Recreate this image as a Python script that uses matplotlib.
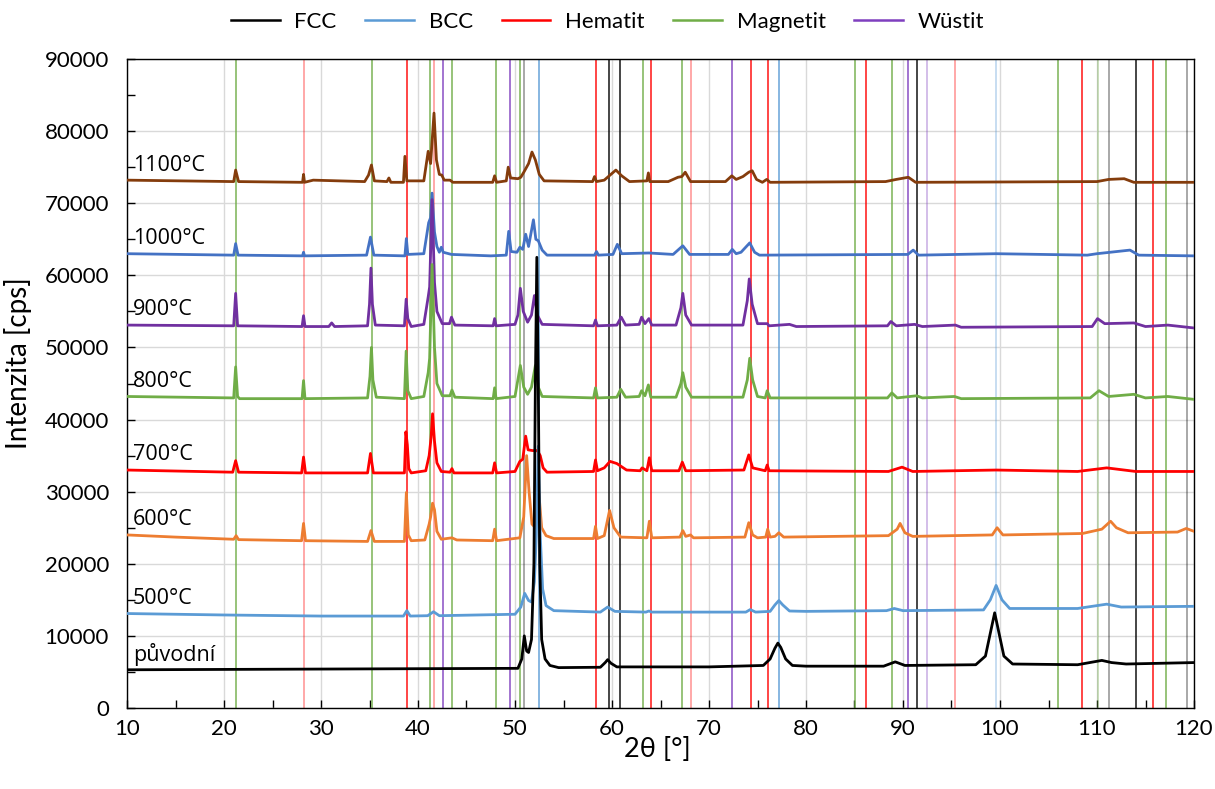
import matplotlib
matplotlib.use("Agg")
import matplotlib.pyplot as plt
from matplotlib.lines import Line2D
from matplotlib.ticker import MultipleLocator

plt.rcParams['font.family'] = ['Lato', 'DejaVu Sans']

# ---------------- data (2theta [deg], intensity [cps]) ----------------
series_names = ["původní", "500°C", "600°C", "700°C", "800°C", "900°C", "1000°C", "1100°C"]

puvodni = [(10, 5300), (20, 5350), (30, 5400), (40, 5450), (50.3, 5500), (50.7, 6800), (50.96, 10000),
           (51.2, 7900), (51.4, 7700), (51.7, 9500), (51.95, 20000), (52.1, 45000), (52.25, 62500),
           (52.4, 45000), (52.55, 20000), (52.75, 9500), (53.1, 6800), (53.6, 5900), (54.5, 5600),
           (58.8, 5650), (59.3, 6300), (59.55, 6700), (59.9, 6200), (60.5, 5700), (70, 5700),
           (75.6, 5900), (76.3, 6800), (76.8, 8300), (77.1, 9000), (77.4, 8400), (77.9, 6800),
           (78.6, 5900), (80, 5800), (88.0, 5800), (89.2, 6400), (90.2, 5900), (97.5, 6000),
           (98.5, 7200), (99.1, 11000), (99.45, 13200), (99.8, 11000), (100.4, 7200), (101.3, 6100),
           (108, 6000), (110.5, 6600), (111.5, 6300), (113, 6100), (120, 6300)]

t500 = [(10, 13100), (20, 12900), (30, 12750), (38.5, 12750), (38.85, 13500), (39.2, 12750), (41.0, 12800),
        (41.6, 13350), (42.2, 12800), (50.0, 13000), (50.6, 14000), (51.0, 15900), (51.4, 14900),
        (51.7, 14700), (52.0, 17500), (52.2, 24000), (52.4, 36300), (52.6, 24000), (52.85, 16500),
        (53.2, 14200), (54, 13500), (58.8, 13300), (59.55, 14000), (60.3, 13400), (63.5, 13300),
        (63.8, 13450), (64.1, 13300), (73.8, 13300), (74.25, 13650), (74.8, 13300), (76.3, 13400),
        (76.8, 14300), (77.2, 14900), (77.6, 14300), (78.3, 13450), (80, 13400), (88.3, 13500),
        (89.1, 13800), (90, 13500), (98.3, 13600), (99.0, 15000), (99.6, 17000), (100.2, 15000),
        (101.0, 13800), (108, 13800), (111.0, 14400), (112.5, 14000), (120, 14100)]

t600 = [(10, 24000), (15, 23700), (21.0, 23400), (21.25, 23900), (21.5, 23350), (28.0, 23200), (28.2, 25600),
        (28.4, 23200), (34.8, 23100), (35.15, 24600), (35.5, 23100), (38.6, 23100), (38.8, 29900),
        (39.0, 24000), (39.3, 23200), (40.7, 23300), (41.15, 25500), (41.3, 26500), (41.5, 28400),
        (41.7, 27500), (41.95, 24500), (42.4, 23400), (43.5, 23600), (44, 23300), (47.7, 23200),
        (47.9, 24800), (48.1, 23200), (50.5, 23600), (50.9, 26500), (51.2, 35000), (51.45, 30000),
        (51.75, 25500), (52.1, 25000), (52.45, 30000), (52.75, 25000), (53.2, 23900), (54, 23500),
        (58.1, 23500), (58.3, 25200), (58.5, 23500), (59.2, 23900), (59.75, 27400), (60.2, 25000),
        (60.9, 23700), (63.6, 23600), (63.85, 25900), (64.1, 23600), (67.0, 23700), (67.3, 24600),
        (67.6, 23800), (68.1, 24000), (68.4, 23600), (73.7, 23700), (74.1, 25700), (74.5, 24000),
        (75.0, 23600), (75.85, 23700), (76.05, 24800), (76.3, 23700), (76.8, 23800), (77.2, 24300),
        (77.7, 23700), (88.5, 23900), (89.4, 24800), (89.7, 25600), (90.2, 24300), (91, 23800),
        (99.2, 24000), (99.7, 25000), (100.3, 24000), (108.5, 24200), (110.5, 24800), (111.4, 25900),
        (112.0, 25000), (113.2, 24300), (118.3, 24400), (119.2, 24900), (120, 24500)]

t700 = [(10, 33000), (20.9, 32700), (21.2, 34300), (21.5, 32700), (28.0, 32600), (28.2, 34800), (28.4, 32600),
        (34.8, 32600), (35.1, 35300), (35.4, 32600), (38.6, 32600), (38.75, 38300), (38.9, 36500),
        (39.05, 33200), (39.3, 32600), (40.8, 32900), (41.15, 35000), (41.35, 37500), (41.5, 40800),
        (41.7, 37000), (41.95, 34000), (42.4, 32800), (43.3, 32700), (43.5, 33200), (43.7, 32600),
        (47.7, 32600), (47.9, 34000), (48.1, 32600), (50.0, 32800), (50.5, 34200), (50.8, 34500),
        (51.1, 37700), (51.35, 35800), (51.8, 35700), (52.3, 35700), (52.6, 35000), (52.9, 33300),
        (53.3, 32700), (58.1, 32800), (58.3, 34400), (58.5, 32900), (59.2, 33300), (59.8, 34200),
        (60.5, 33900), (61.5, 33000), (62.9, 32900), (63.1, 33300), (63.6, 32900), (63.85, 34700),
        (64.1, 32900), (66.9, 32900), (67.25, 34100), (67.6, 32900), (73.6, 33000), (74.1, 35100),
        (74.5, 33300), (75.8, 32900), (76.0, 33700), (76.2, 32900), (88.5, 32800), (89.9, 33400),
        (91, 32800), (99.6, 33000), (108, 32800), (111, 33300), (114, 32800), (120, 32800)]

t800 = [(10, 43200), (21.0, 43000), (21.2, 47300), (21.4, 43200), (21.6, 42900), (28.05, 42900), (28.2, 45400),
        (28.35, 42900), (34.8, 43000), (35.05, 46000), (35.2, 50000), (35.35, 45500), (35.7, 43100),
        (38.6, 42900), (38.78, 49500), (38.95, 44000), (39.3, 42900), (40.6, 43200), (41.05, 46500),
        (41.2, 48500), (41.45, 61500), (41.7, 50000), (41.95, 45000), (42.5, 43300), (43.3, 43300),
        (43.5, 44100), (43.8, 43100), (47.75, 42900), (47.9, 44400), (48.05, 42900), (50.0, 43200),
        (50.55, 47500), (50.9, 44500), (51.3, 43500), (51.7, 44500), (52.1, 47500), (52.4, 44500),
        (52.8, 43200), (58.1, 43000), (58.3, 44400), (58.5, 43000), (60.5, 43100), (60.9, 44200),
        (61.4, 43100), (62.8, 43200), (63.05, 44000), (63.4, 43300), (63.75, 44800), (64.0, 43100),
        (66.6, 43100), (67.1, 45000), (67.3, 46500), (67.6, 44500), (68.2, 43100), (73.5, 43100),
        (73.95, 45500), (74.2, 48500), (74.5, 45500), (75.0, 43200), (75.8, 43000), (76.0, 44000),
        (76.3, 43000), (88.4, 43000), (88.85, 43700), (89.4, 43000), (91.4, 43300), (92, 43000),
        (95.3, 43200), (96, 42900), (109.3, 43000), (110.2, 44000), (111.2, 43200), (113.8, 43500),
        (115, 43000), (117.3, 43200), (120, 42800)]

t900 = [(10, 53100), (21.0, 53000), (21.2, 57500), (21.4, 53000), (28.05, 52900), (28.2, 54400), (28.35, 52900),
        (30.8, 52900), (31.1, 53400), (31.4, 52900), (34.8, 53000), (35.0, 56000), (35.15, 61000),
        (35.3, 56000), (35.6, 53100), (38.6, 53000), (38.78, 56700), (38.95, 54000), (39.3, 52900),
        (40.6, 53200), (41.05, 57000), (41.2, 58400), (41.45, 70500), (41.7, 59000), (41.95, 55000),
        (42.5, 53300), (43.25, 53300), (43.45, 54200), (43.8, 53100), (47.75, 53000), (47.9, 54000),
        (48.05, 53000), (50.0, 53200), (50.3, 54500), (50.55, 58200), (50.85, 55000), (51.3, 53500),
        (51.7, 54500), (52.0, 57200), (52.3, 54500), (52.8, 53200), (58.1, 53000), (58.3, 53800),
        (58.5, 53000), (60.5, 53100), (60.95, 54200), (61.4, 53100), (62.8, 53200), (63.05, 54200),
        (63.4, 53300), (63.8, 54000), (64.1, 53100), (66.6, 53100), (67.1, 55500), (67.3, 57500),
        (67.6, 54500), (68.2, 53100), (73.5, 53100), (73.95, 56500), (74.15, 59500), (74.45, 56000),
        (75.0, 53300), (76.0, 53300), (76.2, 53000), (78.3, 53200), (79, 52900), (88.4, 53000),
        (88.75, 53600), (89.3, 53000), (91.2, 53200), (92, 52900), (95.4, 53100), (96, 52800),
        (109.5, 52900), (110.05, 54000), (110.8, 53300), (113.8, 53400), (115, 52900), (117.3, 53100),
        (120, 52700)]

t1000 = [(10, 63000), (21.0, 62800), (21.2, 64400), (21.45, 62800), (28.1, 62700), (28.2, 63200), (28.3, 62700),
         (34.7, 62800), (35.1, 65300), (35.45, 62800), (38.65, 62700), (38.8, 65100), (38.95, 62900),
         (40.6, 63000), (41.1, 67300), (41.3, 68000), (41.45, 71400), (41.7, 66000), (41.95, 64000),
         (42.2, 63200), (42.4, 63900), (42.6, 63200), (43.45, 62900), (47.5, 62700), (49.1, 62800),
         (49.35, 66100), (49.6, 63300), (50.2, 63200), (50.5, 63900), (50.8, 63600), (51.1, 65700),
         (51.4, 64000), (51.9, 67700), (52.15, 65000), (52.4, 64800), (52.8, 63500), (53.3, 62800),
         (58.2, 62800), (58.4, 63300), (58.6, 62800), (60.1, 62900), (60.55, 64300), (61.0, 63000),
         (63.8, 63100), (66.3, 62900), (67.3, 64100), (68.0, 62900), (72.0, 62900), (72.4, 63600),
         (72.8, 63000), (73.3, 63200), (74.2, 64500), (74.7, 63200), (75.2, 62800), (90.5, 62900),
         (91.05, 63500), (91.6, 62800), (99.6, 63000), (109, 62800), (110, 63000), (113.4, 63500),
         (114.3, 62800), (120, 62700)]

t1100 = [(10, 73200), (21.0, 73000), (21.2, 74600), (21.5, 73000), (28.1, 72900), (28.2, 74000), (28.3, 72900),
         (29.2, 73200), (34.5, 73000), (34.9, 73900), (35.2, 75300), (35.5, 73100), (36.8, 73000),
         (37.0, 73500), (37.2, 72900), (38.5, 72900), (38.65, 76500), (38.85, 73100), (40.6, 73100),
         (41.05, 77200), (41.3, 75500), (41.65, 82500), (41.9, 76000), (42.2, 74000), (42.45, 73900),
         (42.7, 73200), (43.3, 73200), (43.6, 72900), (47.7, 72900), (47.9, 73800), (48.1, 72900),
         (49.1, 73100), (49.3, 75000), (49.55, 73500), (50.3, 73400), (50.6, 73600), (50.95, 74400),
         (51.4, 75500), (51.75, 77100), (52.1, 76000), (52.5, 74000), (53.0, 73100), (58.0, 73000),
         (58.2, 73700), (58.4, 73000), (59.2, 73200), (60.4, 74600), (61.0, 73800), (61.8, 73000),
         (63.6, 73100), (63.75, 74200), (63.9, 73000), (65.8, 73000), (66.8, 73600), (67.2, 73700),
         (67.55, 74300), (68.1, 73000), (71.7, 73000), (72.35, 73800), (72.8, 73300), (73.5, 73700),
         (74.1, 74300), (74.45, 74500), (74.9, 73300), (75.5, 72900), (75.95, 73300), (76.3, 72900),
         (88.2, 73000), (89.3, 73300), (90.55, 73600), (91.3, 72900), (110, 73000), (111.2, 73300),
         (112.8, 73400), (113.8, 72900), (120, 72900)]

# reference reflection positions [deg 2theta]
fcc_strong = [59.72, 60.86, 91.48, 113.99]
fcc_weak = [50.96, 111.2, 119.25]
bcc_strong = [52.44, 77.18]
bcc_weak = [99.59]
hem_strong = [38.9, 58.38, 64.02, 74.36, 76.05, 86.19, 108.45, 115.77]
hem_weak = [28.2, 41.6, 68.18, 95.36]
mag_strong = [21.27, 35.26, 41.27, 43.5, 48.0, 50.55, 63.23, 67.25, 85.02, 88.9, 105.95, 117.1]
mag_weak = [110.07]
wus_strong = [42.58, 49.45, 72.4, 90.55]
wus_weak = [92.5]

phase_names = ["FCC", "BCC", "Hematit", "Magnetit", "Wüstit"]

# ---------------- styles ----------------
series_data = [puvodni, t500, t600, t700, t800, t900, t1000, t1100]
series_colors = ["#000000", "#5B9BD5", "#ED7D31", "#FF0000", "#70AD47", "#7030A0", "#4472C4", "#843C0C"]
phase_colors = ["#000000", "#5B9BD5", "#FF0000", "#70AD47", "#7F3FBF"]
phase_strong = [fcc_strong, bcc_strong, hem_strong, mag_strong, wus_strong]
phase_weak = [fcc_weak, bcc_weak, hem_weak, mag_weak, wus_weak]

fig = plt.figure(figsize=(12.15, 7.89), dpi=100)
ax = fig.add_axes([127 / 1215, 1 - 708 / 789, (1194 - 127) / 1215, (708 - 59) / 789])

ax.set_xlim(10, 120)
ax.set_ylim(0, 90000)
ax.xaxis.set_major_locator(MultipleLocator(10))
ax.xaxis.set_minor_locator(MultipleLocator(5))
ax.yaxis.set_major_locator(MultipleLocator(10000))
ax.yaxis.set_minor_locator(MultipleLocator(5000))
ax.grid(True, which='major', color='#D9D9D9', linewidth=1.0, zorder=0)
ax.set_axisbelow(True)

# reference lines
for col, strong, weak in zip(phase_colors, phase_strong, phase_weak):
    for p in strong:
        ax.axvline(p, color=col, linewidth=1.2, alpha=0.85, zorder=1)
    for p in weak:
        ax.axvline(p, color=col, linewidth=1.2, alpha=0.4, zorder=1)

# spectra: drawn from 1100 down to original so that original is on top
for i in range(len(series_data) - 1, -1, -1):
    xs = [p[0] for p in series_data[i]]
    ys = [p[1] for p in series_data[i]]
    ax.plot(xs, ys, color=series_colors[i], linewidth=2.0, zorder=3 + (len(series_data) - i),
            solid_joinstyle='round')
    ax.text(10.6, ys[0] + 2100, series_names[i], fontsize=15.5, color='black',
            va='center', ha='left', zorder=20, family=['Open Sans', 'DejaVu Sans'])

ax.tick_params(axis='both', which='both', direction='in', length=6, width=1, colors='black',
               labelsize=16, top=False, right=False)
ax.tick_params(axis='y', which='both', pad=13)
ax.tick_params(axis='x', which='both', pad=8)
for s in ax.spines.values():
    s.set_color('black')
    s.set_linewidth(1.0)

ax.set_xlabel("2θ [°]", fontsize=19.5)
ax.set_ylabel("Intenzita [cps]", fontsize=20)
ax.xaxis.set_label_coords(0.497, -0.045)
ax.yaxis.set_label_coords(-0.089, 0.532)

handles = [Line2D([0], [0], color=c, linewidth=1.8) for c in phase_colors]
fig.legend(handles, phase_names, loc='center', bbox_to_anchor=(0.5, 1 - 22 / 789), ncol=5,
           frameon=False, fontsize=16, handlelength=2.2, handletextpad=0.65, columnspacing=1.3)

fig.savefig("out.png", dpi=100)
